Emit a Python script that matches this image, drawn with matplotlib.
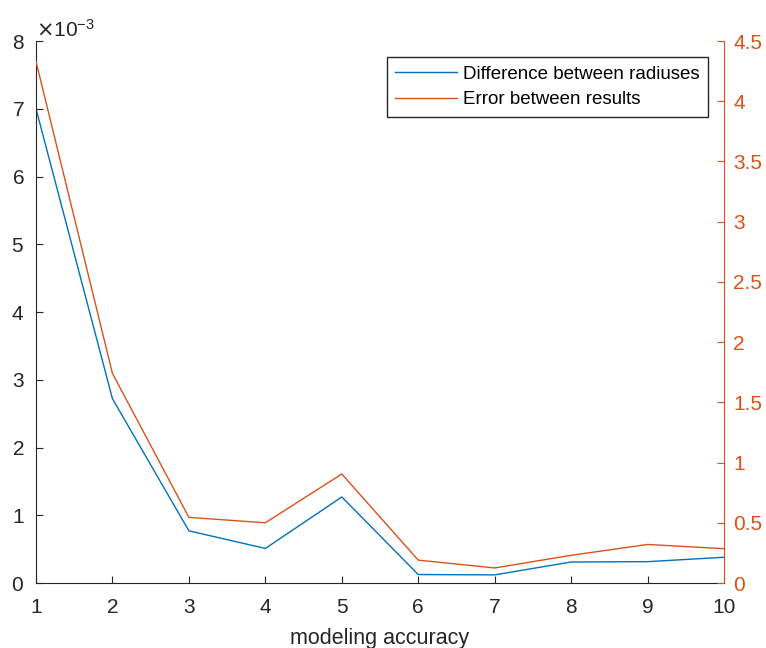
import numpy as np
import matplotlib.pyplot as plt
from matplotlib.ticker import ScalarFormatter

plt.rcParams['font.family'] = ['Liberation Sans', 'DejaVu Sans']

# modeling accuracy
accuracy = [1, 2, 3, 4, 5, 6, 7, 8, 9, 10]
# difference between radiuses (left axis)
radius_diff = [7.0e-3, 2.72e-3, 0.77e-3, 0.51e-3, 1.27e-3,
               0.125e-3, 0.12e-3, 0.31e-3, 0.315e-3, 0.38e-3]
# error between results (right axis)
result_err = [4.33, 1.74, 0.545, 0.50, 0.905,
              0.19, 0.125, 0.23, 0.32, 0.285]
right_ticks = [0, 0.5, 1, 1.5, 2, 2.5, 3, 3.5, 4, 4.5]
right_labels = ['0', '0.5', '1', '1.5', '2', '2.5', '3', '3.5', '4', '4.5']

blue = '#0072BD'
orange = '#D95319'
grey = '#262626'

fig = plt.figure(figsize=(7.66, 6.48), dpi=100)
ax1 = fig.add_axes([0.0470, 0.1003, 0.8982, 0.8364])
ax2 = ax1.twinx()

l1, = ax1.plot(accuracy, radius_diff, color=blue, lw=1.0,
               label='Difference between radiuses')
l2, = ax2.plot(accuracy, result_err, color=orange, lw=1.0,
               label='Error between results')

ax1.set_xlim(1, 10)
ax1.set_ylim(0, 8e-3)
ax2.set_ylim(0, 4.5)
ax1.set_xticks(accuracy)
ax1.set_yticks(np.arange(0, 9) * 1e-3)
ax2.set_yticks(right_ticks)
ax2.set_yticklabels(right_labels)

# x10^-3 multiplier above the left axis
fmt = ScalarFormatter(useMathText=True)
fmt.set_powerlimits((-3, -3))
ax1.yaxis.set_major_formatter(fmt)
ax1.yaxis.get_offset_text().set_fontsize(15)
ax1.yaxis.get_offset_text().set_color(grey)

for sp in ['top', 'right']:
    ax1.spines[sp].set_visible(False)
for sp in ['top', 'left', 'bottom']:
    ax2.spines[sp].set_visible(False)
ax1.spines['left'].set_color(grey)
ax1.spines['bottom'].set_color(grey)
ax2.spines['right'].set_color(orange)

ax1.tick_params(axis='x', direction='in', length=5, labelsize=15,
                colors=grey, pad=11)
ax1.tick_params(axis='y', direction='in', length=5, labelsize=15,
                colors=grey, pad=8.5)
ax2.tick_params(axis='y', direction='in', length=5, labelsize=15,
                colors=orange, pad=6.5)

ax1.set_xlabel('modeling accuracy', fontsize=15.5, color=grey, labelpad=8)

ax1.legend([l1, l2], [l1.get_label(), l2.get_label()], loc='upper right',
           bbox_to_anchor=(0.977, 0.9705), borderaxespad=0,
           fontsize=13.5, fancybox=False, edgecolor=grey, framealpha=1,
           handlelength=3.3, borderpad=0.45, labelspacing=0.45,
           handletextpad=0.32)

fig.savefig('out.png', dpi=100)
